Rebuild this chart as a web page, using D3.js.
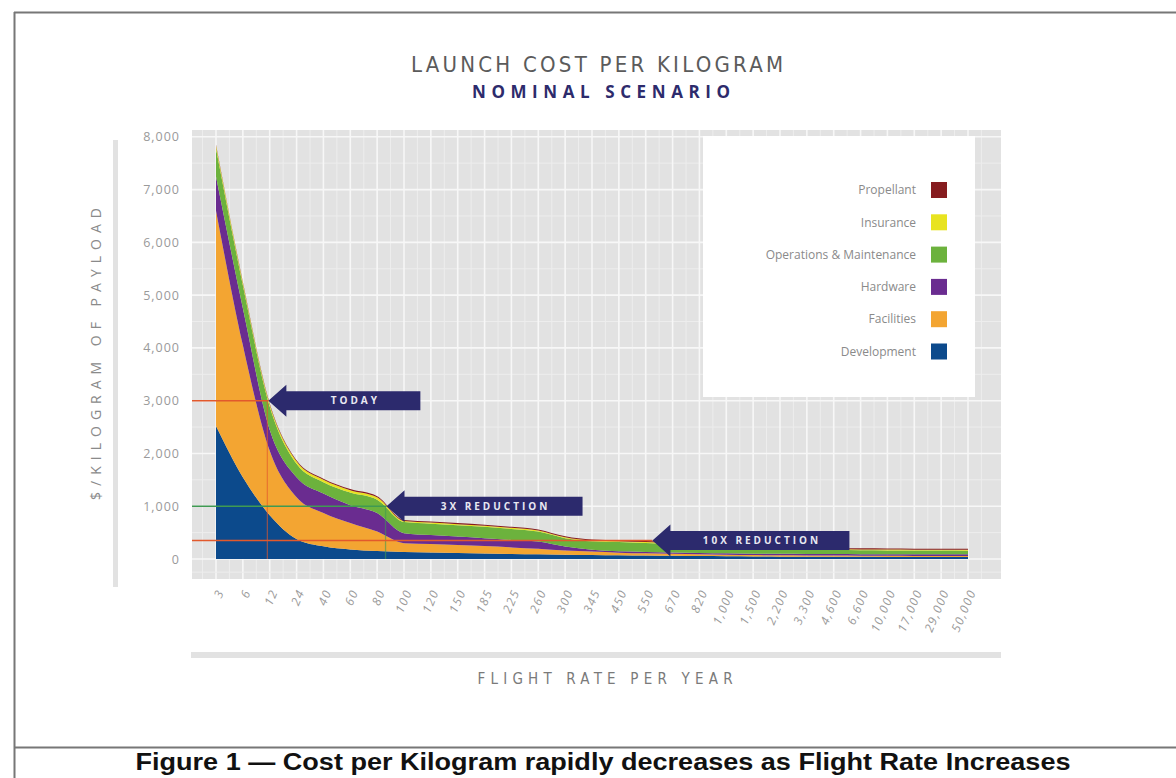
<!DOCTYPE html>
<html>
<head>
<meta charset="utf-8">
<script src="https://cdn.jsdelivr.net/npm/d3@7"></script>
<style>
  html, body { margin: 0; padding: 0; background: #fff; }
  svg { display: block; }
</style>
</head>
<body>
<svg id="chart" width="1176" height="778"></svg>
<script>
// ---------- DATA ----------
const categories = ["3","6","12","24","40","60","80","100","120","150","185","225","260","300","345","450","550","670","820","1,000","1,500","2,200","3,300","4,600","6,600","10,000","17,000","29,000","50,000"];
const development = [2520,1550,830,380,240,180,150,135,125,115,105,95,88,80,75,70,65,60,55,52,48,45,43,42,41,40,40,40,40];
const facilities  = [4080,2500,1220,790,630,500,370,165,160,150,140,125,107,80,65,50,42,40,35,30,27,25,23,22,21,20,19,18,18];
const hardware    = [650,700,400,380,370,340,350,190,170,160,150,140,135,75,35,25,28,25,25,25,25,28,30,30,30,30,30,30,30];
const operations  = [530,435,440,255,215,240,255,210,215,215,215,210,190,160,160,175,170,160,140,120,105,90,84,79,75,73,72,71,70];
const insurance   = [50,45,40,45,45,45,45,20,20,20,20,20,20,15,15,15,15,15,15,15,15,15,15,15,15,15,15,15,15];
const propellant  = [20,20,20,20,20,20,20,20,20,20,20,20,20,20,20,20,20,20,20,20,20,20,20,20,20,20,20,20,20];

const seriesNames  = ["Development","Facilities","Hardware","Operations & Maintenance","Insurance","Propellant"];
const seriesColors = ["#0c4a8c","#f3a532","#6a2c90","#6cb23d","#e8e320","#861c1f"];
const yTicks = [0,1000,2000,3000,4000,5000,6000,7000,8000];

// annotations: position as fractional category index, value level
const annoLabels = ["TODAY","3X REDUCTION","10X REDUCTION"];
const annoIndex  = [1.95, 6.35, 16.25];
const annoValue  = [3000, 1000, 350];
const annoColor  = ["#e2592c","#3f9a52","#e2592c"];
const annoVertical = [true, true, false];
const annoBodyLen  = [134, 178, 179];

// ---------- LAYOUT ----------
const svg = d3.select("#chart");
const plotL = 192, plotR = 1001, plotT = 130, plotB = 579;
const sans = "'Open Sans','Noto Sans',sans-serif";
const narrow = "'Liberation Sans Narrow','DejaVu Sans Condensed',sans-serif";

const x = d3.scalePoint().domain(categories).range([216, 968]);
const xi = d3.scaleLinear().domain([0, categories.length - 1]).range([216, 968]);
const y = d3.scaleLinear().domain([0, 8000]).range([559, 136.8]);

// frame
svg.append("line").attr("x1",14).attr("x2",1176).attr("y1",12.5).attr("y2",12.5).attr("stroke","#777").attr("stroke-width",2);
svg.append("line").attr("x1",14.5).attr("x2",14.5).attr("y1",12).attr("y2",778).attr("stroke","#777").attr("stroke-width",2);
svg.append("line").attr("x1",14).attr("x2",1176).attr("y1",747.5).attr("y2",747.5).attr("stroke","#777").attr("stroke-width",2);

// caption
svg.append("text").attr("x",603).attr("y",770).attr("text-anchor","middle")
  .attr("font-family","'Liberation Sans Narrow','Liberation Sans',Arial,sans-serif")
  .attr("font-weight","bold").attr("font-size",23).attr("fill","#111")
  .attr("textLength",935).attr("lengthAdjust","spacingAndGlyphs")
  .text("Figure 1 \u2014 Cost per Kilogram rapidly decreases as Flight Rate Increases");

// titles
svg.append("text").attr("x",597).attr("y",72).attr("text-anchor","middle")
  .attr("font-family",narrow)
  .attr("font-size",22).attr("fill","#5b5b5b")
  .attr("textLength",372).attr("lengthAdjust","spacing")
  .text("LAUNCH COST PER KILOGRAM");
svg.append("text").attr("x",601).attr("y",98).attr("text-anchor","middle")
  .attr("font-family",sans).attr("font-weight","bold")
  .attr("font-size",17).attr("fill","#2d2b6c")
  .attr("textLength",258).attr("lengthAdjust","spacing")
  .text("NOMINAL SCENARIO");

// y axis side bar and label
svg.append("rect").attr("x",113).attr("y",140).attr("width",5).attr("height",447).attr("fill","#e2e2e2");
svg.append("text").attr("transform","translate(101,354) rotate(-90)").attr("text-anchor","middle")
  .attr("font-family",sans).attr("font-size",14).attr("fill","#8a8a8a")
  .attr("textLength",292).attr("lengthAdjust","spacing")
  .text("$/KILOGRAM OF PAYLOAD");

// bottom bar and x label
svg.append("rect").attr("x",191).attr("y",652).attr("width",810).attr("height",6).attr("fill","#e2e2e2");
svg.append("text").attr("x",605).attr("y",684).attr("text-anchor","middle")
  .attr("font-family",narrow).attr("font-size",15).attr("fill","#7a7a7a")
  .attr("textLength",255).attr("lengthAdjust","spacing")
  .text("FLIGHT RATE PER YEAR");

// plot background
svg.append("rect").attr("x",plotL).attr("y",plotT).attr("width",plotR-plotL).attr("height",plotB-plotT).attr("fill","#e2e2e2");

const grid = svg.append("g");
const step = x.step();
d3.range(-1, categories.length).forEach(i => {
  const gx = xi(i) + step/2;
  if (gx > plotL && gx < plotR) grid.append("line").attr("x1",gx).attr("x2",gx).attr("y1",plotT).attr("y2",plotB).attr("stroke","#ededed").attr("stroke-width",1);
});
d3.range(500, 8500, 1000).forEach(v => {
  grid.append("line").attr("x1",plotL).attr("x2",plotR).attr("y1",y(v)).attr("y2",y(v)).attr("stroke","#ededed").attr("stroke-width",1);
});
categories.forEach(c => {
  grid.append("line").attr("x1",x(c)).attr("x2",x(c)).attr("y1",plotT).attr("y2",plotB).attr("stroke","#f7f7f7").attr("stroke-width",1.6);
});
yTicks.forEach(v => {
  grid.append("line").attr("x1",plotL).attr("x2",plotR).attr("y1",y(v)).attr("y2",y(v)).attr("stroke","#f7f7f7").attr("stroke-width",1.6);
});
grid.append("line").attr("x1",plotL).attr("x2",plotR).attr("y1",y(-250)).attr("y2",y(-250)).attr("stroke","#ededed");

// y tick labels via axis
const yAxis = d3.axisLeft(y).tickValues(yTicks).tickFormat(d3.format(",")).tickSize(0).tickPadding(0);
const yg = svg.append("g").attr("transform","translate(180,0)").call(yAxis);
yg.select(".domain").remove();
yg.selectAll("text").attr("font-family",sans).attr("font-size",12.5)
  .attr("fill","#9a9a9a").attr("letter-spacing","1px");

// x tick labels via axis
const xAxis = d3.axisBottom(x).tickSize(0).tickPadding(0);
const xg = svg.append("g").attr("transform","translate(0,590)").call(xAxis);
xg.select(".domain").remove();
xg.selectAll("text")
  .attr("font-family",sans).attr("font-size",12).attr("font-style","italic")
  .attr("fill","#9a9a9a").attr("letter-spacing","1.5px")
  .attr("text-anchor","end").attr("dy","0.35em").attr("dx","0")
  .attr("transform","translate(4,0) rotate(-67)");

// stacked areas
const rows = categories.map((c,i) => ({
  cat: c,
  "Development": development[i],
  "Facilities": facilities[i],
  "Hardware": hardware[i],
  "Operations & Maintenance": operations[i],
  "Insurance": insurance[i],
  "Propellant": propellant[i]
}));
const layers = d3.stack().keys(seriesNames)(rows);
const area = d3.area()
  .x(d => x(d.data.cat))
  .y0(d => y(d[0]))
  .y1(d => y(d[1]))
  .curve(d3.curveMonotoneX);
svg.append("g").selectAll("path").data(layers).join("path")
  .attr("d", area)
  .attr("fill", (d,i) => seriesColors[i]);

// annotation lines
annoLabels.forEach((lab, k) => {
  const tipX = xi(annoIndex[k]);
  const ty = y(annoValue[k]);
  svg.append("line").attr("x1",plotL).attr("x2",tipX).attr("y1",ty).attr("y2",ty)
    .attr("stroke",annoColor[k]).attr("stroke-width",1.6);
  if (annoVertical[k]) {
    svg.append("line").attr("x1",tipX-1).attr("x2",tipX-1).attr("y1",ty).attr("y2",y(0))
      .attr("stroke",annoColor[k]).attr("stroke-opacity",0.6).attr("stroke-width",1.3);
  }
});

// legend
svg.append("rect").attr("x",703).attr("y",136).attr("width",272).attr("height",261).attr("fill","#ffffff");
const legendOrder = seriesNames.slice().reverse();
const lg = svg.append("g");
legendOrder.forEach((name, i) => {
  const cy = 190 + i * 32.3;
  const idx = seriesNames.indexOf(name);
  lg.append("rect").attr("x",931).attr("y",cy-8).attr("width",16).attr("height",16).attr("fill",seriesColors[idx]);
  lg.append("text").attr("x",916).attr("y",cy).attr("dy","0.35em").attr("text-anchor","end")
    .attr("font-family",sans).attr("font-size",12).attr("fill","#8a8a8a")
    .text(name);
});

// arrows
annoLabels.forEach((lab, k) => {
  const tipX = xi(annoIndex[k]);
  const ty = y(annoValue[k]);
  const headL = 18, headH = 16, bodyH = 9.5, bodyL = annoBodyLen[k];
  const p = d3.path();
  p.moveTo(tipX, ty);
  p.lineTo(tipX + headL, ty - headH);
  p.lineTo(tipX + headL, ty - bodyH);
  p.lineTo(tipX + headL + bodyL, ty - bodyH);
  p.lineTo(tipX + headL + bodyL, ty + bodyH);
  p.lineTo(tipX + headL, ty + bodyH);
  p.lineTo(tipX + headL, ty + headH);
  p.closePath();
  svg.append("path").attr("d", p.toString()).attr("fill","#2c2a6d");
  svg.append("text").attr("x", tipX + headL + bodyL/2 + 2).attr("y", ty).attr("dy","0.36em")
    .attr("text-anchor","middle")
    .attr("font-family",sans).attr("font-weight","bold")
    .attr("font-size",10).attr("fill","#e8e8f2").attr("letter-spacing","3px")
    .text(lab);
});
</script>
</body>
</html>
